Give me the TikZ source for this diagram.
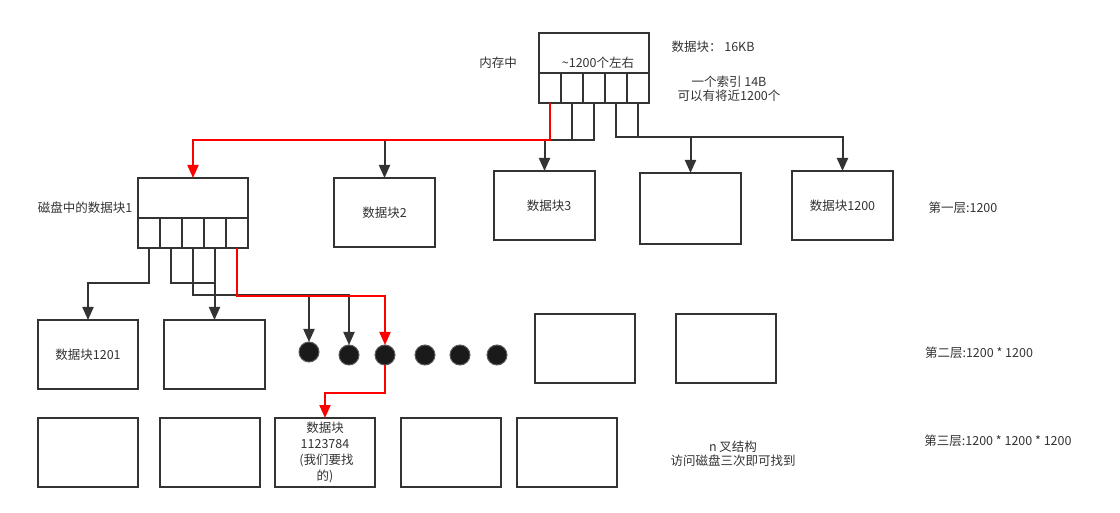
\documentclass[tikz,border=0pt]{standalone}
\usepackage{fontspec}
\setmainfont{Noto Sans CJK SC}
\usetikzlibrary{arrows.meta}
\definecolor{ink}{HTML}{333333}
\definecolor{txt}{HTML}{333333}
\definecolor{rd}{HTML}{FF0000}
\definecolor{dotc}{HTML}{1A1A1A}
\tikzset{
  blk/.style={draw=ink, line width=2pt, fill=white, inner sep=0pt, outer sep=0pt, minimum width=100pt, minimum height=69pt, text=txt, font=\fontsize{12.5}{15}\selectfont},
  cell/.style={draw=ink, line width=2pt, inner sep=0pt, outer sep=0pt, minimum width=22pt, minimum height=30pt},
  dotn/.style={circle, draw=ink!80, fill=dotc, line width=1pt, minimum size=20pt, inner sep=0pt, outer sep=0pt},
  lbl/.style={text=txt, font=\fontsize{12.5}{15}\selectfont, inner sep=0pt, align=center},
  ln/.style={draw=ink, line width=2pt, -{Triangle[length=13pt,width=11pt]}},
  rln/.style={draw=rd, line width=2pt, -{Triangle[length=13pt,width=11pt]}},
  pl/.style={draw=ink, line width=2pt},
}
\begin{document}
\begin{tikzpicture}[x=1pt,y=-1pt]
\useasboundingbox (0,0) rectangle (1120,513);
% memory block
\node[blk, minimum width=110pt, minimum height=70pt] (mem) at (594,68) {};
\foreach \i/\x in {1/550,2/572,3/594,4/616,5/638}{
  \node[cell] (m\i) at (\x,88) {};
}
\node[lbl] (memtxt) at (598,63) {\textasciitilde1200个左右};
\node[lbl] (memlbl) at (498,63) {内存中};
\node[lbl] (sz) at (713,47) {数据块：\ 16KB};
\node[lbl] (idx) at (729,89) {一个索引 14B\\[-1.5pt]可以有将近1200个};
% level 1
\node[blk, minimum width=110pt, minimum height=70pt] (d1) at (193,213) {};
\foreach \i/\x in {1/149,2/171,3/193,4/215,5/237}{
  \node[cell] (c\i) at (\x,233) {};
}
\node[lbl] (d1lbl) at (85,208) {磁盘中的数据块1};
\node[blk, minimum width=101pt] (d2) at (384.5,212.5) {数据块2};
\node[blk, minimum width=101pt] (d3) at (544.5,205.5) {\hspace*{9pt}数据块3};
\node[blk, minimum width=101pt, minimum height=71pt] (d4) at (690.5,208.5) {};
\node[blk, minimum width=101pt] (d1200) at (842.5,205.5) {数据块1200};
\node[lbl] (l1) at (963,208) {第一层:1200};
% level 2
\node[blk] (r1) at (88,354.5) {数据块1201};
\node[blk, minimum width=101pt] (r2) at (214.5,354.5) {};
\node[dotn] (p1) at (309,352) {};
\node[dotn] (p2) at (349,355) {};
\node[dotn] (p3) at (385,355) {};
\node[dotn] (p4) at (425,355) {};
\node[dotn] (p5) at (460,355) {};
\node[dotn] (p6) at (497,355) {};
\node[blk] (r5) at (585,348.5) {};
\node[blk] (r6) at (726,348.5) {};
\node[lbl] (l2) at (979,353) {第二层:1200 * 1200};
% level 3
\node[blk] (s1) at (88,452.5) {};
\node[blk] (s2) at (210,452.5) {};
\node[blk, font=\fontsize{12.5}{16}\selectfont, align=center] (s3) at (325,452.5) {数据块\\1123784\\\ (我们要找\\的)};
\node[blk] (s4) at (451,452.5) {};
\node[blk] (s5) at (567,452.5) {};
\node[lbl] (nary) at (733,454) {n 叉结构\\[-1.5pt]访问磁盘三次即可找到};
\node[lbl] (l3) at (998,441) {第三层:1200 * 1200 * 1200};
% connectors from memory
\draw[ln] (m2.south) -- ++(0,37) -| (d2.north);
\draw[ln] (m3.south) -- ++(0,37) -| (d3.north);
\draw[ln] (m4.south) -- ++(0,34) -| (d4.north);
\draw[ln] (m5.south) -- ++(0,34) -| (d1200.north);
\draw[rln] (m1.south) -- ++(0,37) -| (d1.north);
% connectors from disk block 1
\draw[ln] (c1.south) -- ++(0,35) -| (r1.north);
\draw[ln] (c2.south) -- ++(0,35) -| (r2.north);
\draw[pl] (c4.south) -- ++(0,35);
\draw[ln] (c3.south) -- ++(0,47) -| (p1.north);
\draw[ln] (c4.south) -- ++(0,47) -| (p2.north);
\draw[rln] (c5.south) -- ++(0,48) -| (p3.north);
\draw[rln] (p3.south) -- ++(0,28) -| (s3.north);
\end{tikzpicture}
\end{document}
